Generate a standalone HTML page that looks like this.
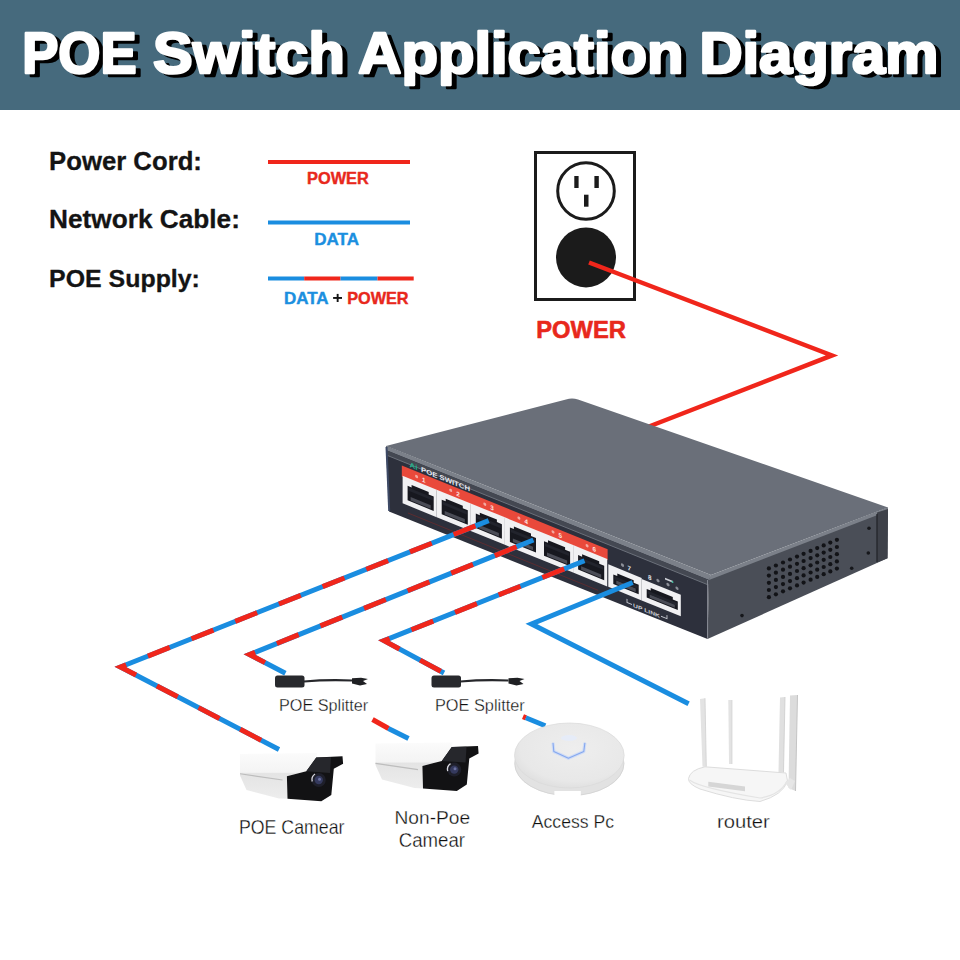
<!DOCTYPE html>
<html><head><meta charset="utf-8">
<style>
html,body{margin:0;padding:0;background:#fff;}
body{width:960px;height:960px;overflow:hidden;position:relative;font-family:"Liberation Sans",sans-serif;}
svg{position:absolute;left:0;top:0;display:block;}
text{font-family:"Liberation Sans",sans-serif;}
</style></head>
<body>
<svg width="960" height="960" viewBox="0 0 960 960">
<defs>
<linearGradient id="camBody" x1="0" y1="0" x2="0" y2="1"><stop offset="0" stop-color="#fbfbfb"/><stop offset="0.42" stop-color="#f4f4f4"/><stop offset="0.45" stop-color="#e4e4e4"/><stop offset="1" stop-color="#ededed"/></linearGradient>
<radialGradient id="apTop" cx="0.55" cy="0.4" r="0.62"><stop offset="0" stop-color="#eeeeee"/><stop offset="0.8" stop-color="#e8e8e8"/><stop offset="1" stop-color="#dfdfdf"/></radialGradient>
</defs>
<rect x="0" y="0" width="960" height="110" fill="#466a7d"/>
<text id="t1" x="27.15" y="76.3" font-size="57.99" font-weight="bold" fill="#000" stroke="#000" stroke-width="2.6" stroke-linejoin="round" textLength="114.38" lengthAdjust="spacingAndGlyphs">POE</text>
<text id="t2" x="158.1" y="76.3" font-size="57.99" font-weight="bold" fill="#000" stroke="#000" stroke-width="2.6" stroke-linejoin="round" textLength="191.65" lengthAdjust="spacingAndGlyphs">Switch</text>
<text id="t3" x="363.29" y="76.3" font-size="57.99" font-weight="bold" fill="#000" stroke="#000" stroke-width="2.6" stroke-linejoin="round" textLength="325.27" lengthAdjust="spacingAndGlyphs">Application</text>
<text id="t4" x="704.4" y="76.3" font-size="57.99" font-weight="bold" fill="#000" stroke="#000" stroke-width="2.6" stroke-linejoin="round" textLength="239.01" lengthAdjust="spacingAndGlyphs">Diagram</text>
<text id="t5" x="22.15" y="73.3" font-size="57.99" font-weight="bold" fill="#fff" stroke="#fff" stroke-width="2.6" stroke-linejoin="round" textLength="114.38" lengthAdjust="spacingAndGlyphs">POE</text>
<text id="t6" x="153.1" y="73.3" font-size="57.99" font-weight="bold" fill="#fff" stroke="#fff" stroke-width="2.6" stroke-linejoin="round" textLength="191.65" lengthAdjust="spacingAndGlyphs">Switch</text>
<text id="t7" x="358.29" y="73.3" font-size="57.99" font-weight="bold" fill="#fff" stroke="#fff" stroke-width="2.6" stroke-linejoin="round" textLength="325.27" lengthAdjust="spacingAndGlyphs">Application</text>
<text id="t8" x="699.4" y="73.3" font-size="57.99" font-weight="bold" fill="#fff" stroke="#fff" stroke-width="2.6" stroke-linejoin="round" textLength="239.01" lengthAdjust="spacingAndGlyphs">Diagram</text>
<text id="t9" x="49.1" y="170.25" font-size="25.58" font-weight="bold" fill="#141414" stroke="#141414" stroke-width="0.3" stroke-linejoin="round" textLength="152.8" lengthAdjust="spacingAndGlyphs">Power Cord:</text>
<text id="t10" x="49.11" y="227.85" font-size="25.15" font-weight="bold" fill="#141414" stroke="#141414" stroke-width="0.3" stroke-linejoin="round" textLength="190.79" lengthAdjust="spacingAndGlyphs">Network Cable:</text>
<text id="t11" x="49.1" y="286.55" font-size="23.84" font-weight="bold" fill="#141414" stroke="#141414" stroke-width="0.3" stroke-linejoin="round" textLength="150.81" lengthAdjust="spacingAndGlyphs">POE Supply:</text>
<rect x="268" y="160" width="142" height="4" fill="#f0261b"/>
<text id="t12" x="306.97" y="184.0" font-size="16.42" font-weight="bold" fill="#e8281c" stroke="#e8281c" stroke-width="0.4" stroke-linejoin="round" textLength="61.87" lengthAdjust="spacingAndGlyphs">POWER</text>
<rect x="268" y="220.5" width="142" height="4" fill="#1a8de0"/>
<text id="t13" x="314.17" y="244.8" font-size="17.15" font-weight="bold" fill="#1b8fdf" stroke="#1b8fdf" stroke-width="0.4" stroke-linejoin="round" textLength="44.85" lengthAdjust="spacingAndGlyphs">DATA</text>
<rect x="268" y="276.5" width="36.2" height="4" fill="#1a8de0"/>
<rect x="304.2" y="276.5" width="36.3" height="4" fill="#f0261b"/>
<rect x="340.5" y="276.5" width="37" height="4" fill="#1a8de0"/>
<rect x="377.5" y="276.5" width="36.2" height="4" fill="#f0261b"/>
<text id="t14" x="283.95" y="303.5" font-size="15.7" font-weight="bold" fill="#1b8fdf" stroke="#1b8fdf" stroke-width="0.4" stroke-linejoin="round" textLength="44.68" lengthAdjust="spacingAndGlyphs">DATA</text>
<rect x="333.1" y="297" width="8.9" height="1.9" fill="#141414"/><rect x="336.7" y="293.9" width="1.9" height="8.1" fill="#141414"/>
<text id="t15" x="347.18" y="303.5" font-size="15.7" font-weight="bold" fill="#e8281c" stroke="#e8281c" stroke-width="0.4" stroke-linejoin="round" textLength="61.43" lengthAdjust="spacingAndGlyphs">POWER</text>
<rect x="535.5" y="152.5" width="99" height="147" fill="none" stroke="#1b1b1b" stroke-width="3"/>
<circle cx="586" cy="191" r="28.3" fill="none" stroke="#1b1b1b" stroke-width="3"/>
<rect x="574.3" y="176" width="4.3" height="12" fill="#1b1b1b"/>
<rect x="594.4" y="176" width="4.4" height="12" fill="#1b1b1b"/>
<rect x="584" y="194.7" width="4.5" height="12" fill="#1b1b1b"/>
<circle cx="586" cy="257.4" r="30" fill="#1b1b1b"/>
<text id="t16" x="536.27" y="337.7" font-size="23.84" font-weight="bold" fill="#e8281c" stroke="#e8281c" stroke-width="0.6" stroke-linejoin="round" textLength="89.64" lengthAdjust="spacingAndGlyphs">POWER</text>
<polyline points="589,262.5 832,355.4 640,430" fill="none" stroke="#f0261b" stroke-width="4.5"/>
<g id="switch">
<path d="M386,446 L709,577 L707.5,639 L389,511.5 Z" fill="#2d303c"/>
<path d="M709,577 L888,507.5 L887.5,558.3 L707.5,639 Z" fill="#4a4e57"/>
<path d="M386,446 L566,399.5 Q572,397.5 578,399.5 L888,507.5 L711,575 Z" fill="#6a6f79"/>
<path d="M386,446 L711,575 L709,580 L387,450.5 Z" fill="#7b8089"/>
<path d="M387,450.5 L709,580 L708.5,585 L387.5,455.5 Z" fill="#444852"/>
<path d="M387.5,455.5 L708.5,585" stroke="#6b707a" stroke-width="1"/>
<path d="M711,575 L888,507.5 L888,511 L709,580 Z" fill="#7b8089"/>
<path d="M386.5,447 L389.2,511" stroke="#3e4a66" stroke-width="2"/>
<path d="M707.6,580 L707.6,638" stroke="#8a8e98" stroke-width="1"/>
<path d="M877,512.5 L888,509 L887.5,558.3 L877,562.5 Z" fill="#3e4149"/>
<path d="M877,514 L877,562" stroke="#23252b" stroke-width="1.3"/>
<circle cx="869" cy="528.3" r="1.8" fill="#16171b"/>
<circle cx="868.3" cy="553" r="1.8" fill="#16171b"/>
<circle cx="851.7" cy="568.3" r="1.8" fill="#16171b"/>
<circle cx="742" cy="615.6" r="1.8" fill="#16171b"/>
<circle cx="768.9" cy="568.4" r="2.1" fill="#121317"/>
<circle cx="768.9" cy="575.6" r="2.1" fill="#121317"/>
<circle cx="768.9" cy="582.8" r="2.1" fill="#121317"/>
<circle cx="768.9" cy="590.0" r="2.1" fill="#121317"/>
<circle cx="768.9" cy="597.2" r="2.1" fill="#121317"/>
<circle cx="775.9" cy="565.5" r="2.1" fill="#121317"/>
<circle cx="775.9" cy="572.7" r="2.1" fill="#121317"/>
<circle cx="775.9" cy="579.9" r="2.1" fill="#121317"/>
<circle cx="775.9" cy="587.1" r="2.1" fill="#121317"/>
<circle cx="775.9" cy="594.3" r="2.1" fill="#121317"/>
<circle cx="783.0" cy="562.5" r="2.1" fill="#121317"/>
<circle cx="783.0" cy="569.7" r="2.1" fill="#121317"/>
<circle cx="783.0" cy="576.9" r="2.1" fill="#121317"/>
<circle cx="783.0" cy="584.1" r="2.1" fill="#121317"/>
<circle cx="783.0" cy="591.3" r="2.1" fill="#121317"/>
<circle cx="790.0" cy="559.5" r="2.1" fill="#121317"/>
<circle cx="790.0" cy="566.7" r="2.1" fill="#121317"/>
<circle cx="790.0" cy="573.9" r="2.1" fill="#121317"/>
<circle cx="790.0" cy="581.1" r="2.1" fill="#121317"/>
<circle cx="790.0" cy="588.3" r="2.1" fill="#121317"/>
<circle cx="797.0" cy="556.6" r="2.1" fill="#121317"/>
<circle cx="797.0" cy="563.8" r="2.1" fill="#121317"/>
<circle cx="797.0" cy="571.0" r="2.1" fill="#121317"/>
<circle cx="797.0" cy="578.2" r="2.1" fill="#121317"/>
<circle cx="797.0" cy="585.4" r="2.1" fill="#121317"/>
<circle cx="803.6" cy="553.8" r="2.1" fill="#121317"/>
<circle cx="803.6" cy="561.0" r="2.1" fill="#121317"/>
<circle cx="803.6" cy="568.2" r="2.1" fill="#121317"/>
<circle cx="803.6" cy="575.4" r="2.1" fill="#121317"/>
<circle cx="803.6" cy="582.6" r="2.1" fill="#121317"/>
<circle cx="810.6" cy="550.9" r="2.1" fill="#121317"/>
<circle cx="810.6" cy="558.1" r="2.1" fill="#121317"/>
<circle cx="810.6" cy="565.3" r="2.1" fill="#121317"/>
<circle cx="810.6" cy="572.5" r="2.1" fill="#121317"/>
<circle cx="810.6" cy="579.7" r="2.1" fill="#121317"/>
<circle cx="817.2" cy="548.1" r="2.1" fill="#121317"/>
<circle cx="817.2" cy="555.3" r="2.1" fill="#121317"/>
<circle cx="817.2" cy="562.5" r="2.1" fill="#121317"/>
<circle cx="817.2" cy="569.7" r="2.1" fill="#121317"/>
<circle cx="817.2" cy="576.9" r="2.1" fill="#121317"/>
<circle cx="823.7" cy="545.4" r="2.1" fill="#121317"/>
<circle cx="823.7" cy="552.6" r="2.1" fill="#121317"/>
<circle cx="823.7" cy="559.8" r="2.1" fill="#121317"/>
<circle cx="823.7" cy="567.0" r="2.1" fill="#121317"/>
<circle cx="823.7" cy="574.2" r="2.1" fill="#121317"/>
<circle cx="830.3" cy="542.6" r="2.1" fill="#121317"/>
<circle cx="830.3" cy="549.8" r="2.1" fill="#121317"/>
<circle cx="830.3" cy="557.0" r="2.1" fill="#121317"/>
<circle cx="830.3" cy="564.2" r="2.1" fill="#121317"/>
<circle cx="830.3" cy="571.4" r="2.1" fill="#121317"/>
<circle cx="836.9" cy="539.8" r="2.1" fill="#121317"/>
<circle cx="836.9" cy="547.0" r="2.1" fill="#121317"/>
<circle cx="836.9" cy="554.2" r="2.1" fill="#121317"/>
<circle cx="836.9" cy="561.4" r="2.1" fill="#121317"/>
<circle cx="836.9" cy="568.6" r="2.1" fill="#121317"/>
<g transform="matrix(1,0.406,0,1,0,-157.122)">
<rect x="401.8" y="459.6" width="205.8" height="11" fill="#e9493b"/>
<text x="409.5" y="457.8" font-size="7" font-weight="bold" fill="#26b38c" textLength="8" lengthAdjust="spacingAndGlyphs">Ai</text>
<text x="421" y="457.8" font-size="6.8" font-weight="bold" fill="#e6e9f2" textLength="49" lengthAdjust="spacingAndGlyphs">POE SWITCH</text>
<rect x="402.6" y="469.5" width="34.1" height="27.5" fill="#f1f1f3"/>
<path d="M407.6,477.5 L411.6,477.5 L411.6,475.0 L428.7,475.0 L428.7,477.5 L433.7,477.5 L433.7,492 L407.6,492 Z" fill="#17181f"/>
<rect x="410.6" y="487.5" width="20.1" height="3.5" fill="#4a4c56"/>
<rect x="408.6" y="479.0" width="24.1" height="3" fill="#22242d"/>
<circle cx="416.6" cy="464.5" r="1.5" fill="#f3aaa2"/>
<text x="422.1" y="467.3" font-size="6.3" font-weight="bold" fill="#fde6e2">1</text>
<rect x="436.7" y="469.5" width="34.1" height="27.5" fill="#f1f1f3"/>
<path d="M441.7,477.5 L445.7,477.5 L445.7,475.0 L462.8,475.0 L462.8,477.5 L467.8,477.5 L467.8,492 L441.7,492 Z" fill="#17181f"/>
<rect x="444.7" y="487.5" width="20.1" height="3.5" fill="#4a4c56"/>
<rect x="442.7" y="479.0" width="24.1" height="3" fill="#22242d"/>
<circle cx="450.7" cy="464.5" r="1.5" fill="#f3aaa2"/>
<text x="456.2" y="467.3" font-size="6.3" font-weight="bold" fill="#fde6e2">2</text>
<rect x="470.8" y="469.5" width="34.1" height="27.5" fill="#f1f1f3"/>
<path d="M475.8,477.5 L479.8,477.5 L479.8,475.0 L496.9,475.0 L496.9,477.5 L501.9,477.5 L501.9,492 L475.8,492 Z" fill="#17181f"/>
<rect x="478.8" y="487.5" width="20.1" height="3.5" fill="#4a4c56"/>
<rect x="476.8" y="479.0" width="24.1" height="3" fill="#22242d"/>
<circle cx="484.8" cy="464.5" r="1.5" fill="#f3aaa2"/>
<text x="490.3" y="467.3" font-size="6.3" font-weight="bold" fill="#fde6e2">3</text>
<rect x="504.9" y="469.5" width="34.1" height="27.5" fill="#f1f1f3"/>
<path d="M509.9,477.5 L513.9,477.5 L513.9,475.0 L531.0,475.0 L531.0,477.5 L536.0,477.5 L536.0,492 L509.9,492 Z" fill="#17181f"/>
<rect x="512.9" y="487.5" width="20.1" height="3.5" fill="#4a4c56"/>
<rect x="510.9" y="479.0" width="24.1" height="3" fill="#22242d"/>
<circle cx="518.9" cy="464.5" r="1.5" fill="#f3aaa2"/>
<text x="524.4" y="467.3" font-size="6.3" font-weight="bold" fill="#fde6e2">4</text>
<rect x="539.0" y="469.5" width="34.1" height="27.5" fill="#f1f1f3"/>
<path d="M544.0,477.5 L548.0,477.5 L548.0,475.0 L565.1,475.0 L565.1,477.5 L570.1,477.5 L570.1,492 L544.0,492 Z" fill="#17181f"/>
<rect x="547.0" y="487.5" width="20.1" height="3.5" fill="#4a4c56"/>
<rect x="545.0" y="479.0" width="24.1" height="3" fill="#22242d"/>
<circle cx="553.0" cy="464.5" r="1.5" fill="#f3aaa2"/>
<text x="558.5" y="467.3" font-size="6.3" font-weight="bold" fill="#fde6e2">5</text>
<rect x="573.1" y="469.5" width="34.1" height="27.5" fill="#f1f1f3"/>
<path d="M578.1,477.5 L582.1,477.5 L582.1,475.0 L599.2,475.0 L599.2,477.5 L604.2,477.5 L604.2,492 L578.1,492 Z" fill="#17181f"/>
<rect x="581.1" y="487.5" width="20.1" height="3.5" fill="#4a4c56"/>
<rect x="579.1" y="479.0" width="24.1" height="3" fill="#22242d"/>
<circle cx="587.1" cy="464.5" r="1.5" fill="#f3aaa2"/>
<text x="592.6" y="467.3" font-size="6.3" font-weight="bold" fill="#fde6e2">6</text>
<rect x="608.3" y="474.5" width="33.4" height="22.5" fill="#f1f1f3"/>
<path d="M613.3,482.5 L617.3,482.5 L617.3,480.0 L633.7,480.0 L633.7,482.5 L638.7,482.5 L638.7,492 L613.3,492 Z" fill="#17181f"/>
<rect x="616.3" y="487.5" width="19.4" height="3.5" fill="#4a4c56"/>
<rect x="614.3" y="484.0" width="23.4" height="3" fill="#22242d"/>
<rect x="641.7" y="475.5" width="39.1" height="21.5" fill="#f1f1f3"/>
<path d="M646.7,483.5 L650.7,483.5 L650.7,481.0 L672.8,481.0 L672.8,483.5 L677.8,483.5 L677.8,492 L646.7,492 Z" fill="#17181f"/>
<rect x="649.7" y="487.5" width="25.1" height="3.5" fill="#4a4c56"/>
<rect x="647.7" y="485.0" width="29.1" height="3" fill="#22242d"/>
<circle cx="622.5" cy="469.5" r="1.6" fill="#8d9099"/><text x="627.5" y="472" font-size="6.3" font-weight="bold" fill="#e3e5ea">7</text>
<text x="648" y="473" font-size="6.3" font-weight="bold" fill="#e3e5ea">8</text><circle cx="658" cy="470.5" r="1.6" fill="#8d9099"/>
<rect x="665" y="465" width="8" height="1.6" fill="#d0d3da"/>
<circle cx="668" cy="470.5" r="1.6" fill="#8d9099"/><circle cx="677" cy="470.5" r="1.6" fill="#8d9099"/>
<circle cx="672.5" cy="466" r="1" fill="#3fb89a"/>
<path d="M408,504.5 L598,504.5" stroke="#5d2c30" stroke-width="1"/>
<path d="M627,501.5 L627,505 L632,505 M661,505 L667,505 L667,501.5" stroke="#c8cad2" stroke-width="0.9" fill="none"/>
<text x="633" y="507.2" font-size="5.4" font-weight="bold" fill="#c8cad2" textLength="27" lengthAdjust="spacingAndGlyphs">UP LINK</text>
</g>
</g>
<polyline points="488.7,520.6 120.5,667 279,749.5" fill="none" stroke="#1a8de0" stroke-width="5" stroke-linejoin="miter"/>
<polyline points="488.7,520.6 120.5,667 279,749.5" fill="none" stroke="#f0261b" stroke-width="5" stroke-linejoin="miter" stroke-dasharray="23.5 23.5" stroke-dashoffset="32.76"/>
<polyline points="533.4,540 249.5,654.5 285.4,673.3" fill="none" stroke="#1a8de0" stroke-width="5" stroke-linejoin="miter"/>
<polyline points="533.4,540 249.5,654.5 285.4,673.3" fill="none" stroke="#f0261b" stroke-width="5" stroke-linejoin="miter" stroke-dasharray="23.5 23.5" stroke-dashoffset="28.88"/>
<polyline points="584.5,560.7 384,640.7 444,673" fill="none" stroke="#1a8de0" stroke-width="5" stroke-linejoin="miter"/>
<polyline points="584.5,560.7 384,640.7 444,673" fill="none" stroke="#f0261b" stroke-width="5" stroke-linejoin="miter" stroke-dasharray="23.5 23.5" stroke-dashoffset="25.13"/>
<polyline points="632.7,582.5 531.5,624 688.6,703.7" fill="none" stroke="#1a8de0" stroke-width="5" stroke-linejoin="miter"/>
<line x1="372.5" y1="719.5" x2="388.6" y2="728.5" stroke="#f0261b" stroke-width="5"/>
<line x1="388.4" y1="728.4" x2="408.5" y2="738.5" stroke="#1a8de0" stroke-width="5"/>
<line x1="523" y1="716.6" x2="526" y2="717.9" stroke="#f0261b" stroke-width="5"/>
<line x1="525.8" y1="717.8" x2="545.3" y2="725.8" stroke="#1a8de0" stroke-width="5"/>
<rect x="275" y="675.5" width="29.5" height="12" rx="2.5" fill="#28292d"/>
<path d="M304,681.5 Q327,679.5 352,680.5" fill="none" stroke="#26272b" stroke-width="2.2"/>
<path d="M352,678.2 L361,677.8 L368,679 L363,681 L367,684 L360,685.5 L352,683.5 Z" fill="#1f2023"/>
<rect x="431.5" y="675.5" width="29.5" height="12" rx="2.5" fill="#28292d"/>
<path d="M460.5,681.5 Q483.5,679.5 508.5,680.5" fill="none" stroke="#26272b" stroke-width="2.2"/>
<path d="M508.5,678.2 L517.5,677.8 L524.5,679 L519.5,681 L523.5,684 L516.5,685.5 L508.5,683.5 Z" fill="#1f2023"/>
<g transform="translate(287,777)"><path d="M-47,-23 L30,-24 L29.3,-19.5 L19.3,-5.7 L-0.1,-0.7 L0.5,21.8 L-8,21.5 L-40.5,13 L-47,-1.5 Z" fill="url(#camBody)"/>
<path d="M-47,-3.2 L-4.5,3" stroke="#bdbdbd" stroke-width="1.1"/>
<path d="M-0.1,-0.7 L19.3,-5.7 L29.3,-19.5 L55.5,-20.7 L56.1,-13.2 L46.8,-8.2 L44.3,18 L34.3,24.3 L0.5,21.8 Z" fill="#121214"/>
<path d="M19.3,-5.7 L29.3,-19.5 L44,-19.8 L43,-4 Z" fill="#26272c"/>
<circle cx="31.75" cy="3" r="7" fill="#1e1f2a"/>
<circle cx="31.75" cy="3" r="4.2" fill="#353a5e"/>
<circle cx="32.5" cy="2.2" r="1.5" fill="#6a70a0"/>
<path d="M25.2,4.5 A7,7 0 0 1 28,-3" stroke="#d8d8e0" stroke-width="1.3" fill="none"/></g>
<g transform="translate(422.5,766.6)"><path d="M-47,-23 L30,-24 L29.3,-19.5 L19.3,-5.7 L-0.1,-0.7 L0.5,21.8 L-8,21.5 L-40.5,13 L-47,-1.5 Z" fill="url(#camBody)"/>
<path d="M-47,-3.2 L-4.5,3" stroke="#bdbdbd" stroke-width="1.1"/>
<path d="M-0.1,-0.7 L19.3,-5.7 L29.3,-19.5 L55.5,-20.7 L56.1,-13.2 L46.8,-8.2 L44.3,18 L34.3,24.3 L0.5,21.8 Z" fill="#121214"/>
<path d="M19.3,-5.7 L29.3,-19.5 L44,-19.8 L43,-4 Z" fill="#26272c"/>
<circle cx="31.75" cy="3" r="7" fill="#1e1f2a"/>
<circle cx="31.75" cy="3" r="4.2" fill="#353a5e"/>
<circle cx="32.5" cy="2.2" r="1.5" fill="#6a70a0"/>
<path d="M25.2,4.5 A7,7 0 0 1 28,-3" stroke="#d8d8e0" stroke-width="1.3" fill="none"/></g>
<ellipse cx="569.35" cy="763.5" rx="54.85" ry="32.5" fill="#e2e2e2"/>
<ellipse cx="569.35" cy="763.5" rx="54.6" ry="32.2" fill="none" stroke="#d2d2d2" stroke-width="0.8"/>
<ellipse cx="569.35" cy="755.5" rx="54.85" ry="32.5" fill="url(#apTop)" stroke="#dadada" stroke-width="0.7"/>
<rect x="554.4" y="791" width="26.4" height="7" fill="#fff"/>
<path d="M553,742.8 L553.8,751.5 L568.4,758.3 L583.8,751.5 L584.9,742.8" fill="none" stroke="#cfdcf6" stroke-width="3.2" stroke-linejoin="round"/>
<path d="M553,742.8 L553.8,751.5 L568.4,758.3 L583.8,751.5 L584.9,742.8" fill="none" stroke="#86a8ee" stroke-width="1.1" stroke-linejoin="round"/>
<ellipse cx="569" cy="738" rx="8" ry="3" fill="#e6ecf8"/>
<path d="M700,699 L705,698.2 L706.3,766.7 L702.5,766.7 Z" fill="#e3e3e3"/><path d="M705,698.2 L706.3,766.7" stroke="#cfcfcf" stroke-width="0.8"/>
<path d="M728.3,700 L732,700 L732,764 L729,764 Z" fill="#e3e3e3"/><path d="M732,700 L732,764" stroke="#d0d0d0" stroke-width="0.7"/>
<path d="M780,697.5 L785,697 L783.5,772.5 L778.5,772.5 Z" fill="#e0e0e0"/><path d="M785,697 L783.5,772.5" stroke="#cbcbcb" stroke-width="0.8"/>
<path d="M790,695.5 L797.5,695 L795.5,791 L788.5,788 Z" fill="#dcdcdc"/><path d="M797.5,695 L795.5,791" stroke="#c4c4c4" stroke-width="1"/>
<path d="M688.5,778.5 Q690,770 705,766.8 L786,773 L787.5,781 Q783,795 760,801.5 Q735,800 700,789 Q688,784 688.5,778.5 Z" fill="#f6f6f6" stroke="#d9d9d9" stroke-width="0.9"/>
<path d="M689.5,780 Q700,788 760,798 Q780,795 787,781" fill="none" stroke="#e4e4e4" stroke-width="1.2"/>
<path d="M708.3,781.7 L745,786.5 L745,791.2 L708.3,786.5 Z" fill="#d6d6d6"/>
<path d="M785,783 L790,778 L795,781 L791,790 Z" fill="#e6e6e6"/>
<text id="t17" x="278.99" y="710.5" font-size="16.42" fill="#0e0e0e" textLength="89.22" lengthAdjust="spacingAndGlyphs" style="stroke:#fff;stroke-width:0.3px">POE Splitter</text>
<text id="t18" x="434.98" y="710.5" font-size="16.42" fill="#0e0e0e" textLength="89.83" lengthAdjust="spacingAndGlyphs" style="stroke:#fff;stroke-width:0.3px">POE Splitter</text>
<text id="t19" x="238.99" y="834.0" font-size="19.48" fill="#0e0e0e" textLength="105.43" lengthAdjust="spacingAndGlyphs" style="stroke:#fff;stroke-width:0.3px">POE Camear</text>
<text id="t20" x="394.53" y="823.9" font-size="19.04" fill="#0e0e0e" textLength="75.67" lengthAdjust="spacingAndGlyphs" style="stroke:#fff;stroke-width:0.3px">Non-Poe</text>
<text id="t21" x="398.78" y="846.9" font-size="19.33" fill="#0e0e0e" textLength="66.22" lengthAdjust="spacingAndGlyphs" style="stroke:#fff;stroke-width:0.3px">Camear</text>
<text id="t22" x="531.79" y="828.1" font-size="19.19" fill="#0e0e0e" textLength="82.26" lengthAdjust="spacingAndGlyphs" style="stroke:#fff;stroke-width:0.3px">Access Pc</text>
<text id="t23" x="716.98" y="828.3" font-size="19.19" fill="#0e0e0e" textLength="52.83" lengthAdjust="spacingAndGlyphs" style="stroke:#fff;stroke-width:0.3px">router</text>
</svg>
</body></html>
